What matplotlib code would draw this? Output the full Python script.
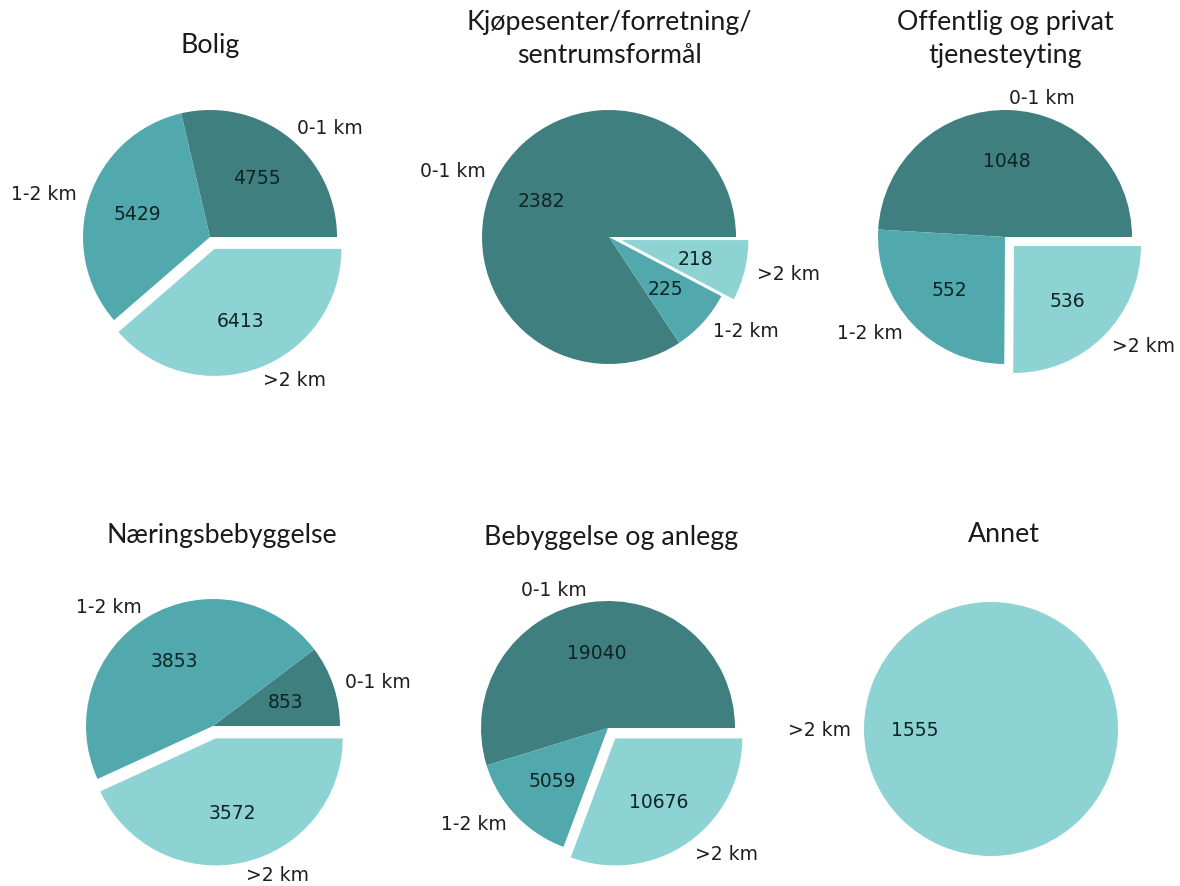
import matplotlib
matplotlib.use("Agg")
import matplotlib.pyplot as plt

# Distance bands and counts per land-use category
bands = ["0-1 km", "1-2 km", ">2 km"]
titles = [
    "Bolig",
    "Kjøpesenter/forretning/\nsentrumsformål",
    "Offentlig og privat\ntjenesteyting",
    "Næringsbebyggelse",
    "Bebyggelse og anlegg",
    "Annet",
]
bolig = [4755, 5429, 6413]
kjopesenter = [2382, 225, 218]
offentlig = [1048, 552, 536]
naering = [853, 3853, 3572]
bebyggelse = [19040, 5059, 10676]
annet = [1555]
annet_bands = [">2 km"]

colors = ["#3f7f80", "#52a9ad", "#8ed3d4"]

W, H = 1180, 887
fig = plt.figure(figsize=(W / 100, H / 100), dpi=100)

R = 127  # pie radius in pixels
side = 2.5 * R
centers = [(210, 238), (609, 238), (1005, 238), (213, 727), (608, 729), (991, 730)]
title_pos = [(210, 45), (609, 39), (1005, 39), (222, 535), (611, 537), (1004, 535)]

datasets = [
    (bolig, bands, colors, [0, 0, 0.1]),
    (kjopesenter, bands, colors, [0, 0, 0.1]),
    (offentlig, bands, colors, [0, 0, 0.1]),
    (naering, bands, colors, [0, 0, 0.1]),
    (bebyggelse, bands, colors, [0, 0, 0.1]),
    (annet, annet_bands, [colors[2]], [0]),
]


def make_autopct(values):
    total = sum(values)

    def fmt(pct):
        return f"{int(round(pct * total / 100.0))}"

    return fmt


for (cx, cy), (tx, ty), title, (vals, labs, cols, expl) in zip(
    centers, title_pos, titles, datasets
):
    ax = fig.add_axes([(cx - side / 2) / W, 1 - (cy + side / 2) / H, side / W, side / H])
    wedges, texts, autotexts = ax.pie(
        vals,
        labels=labs,
        colors=cols,
        explode=expl,
        autopct=make_autopct(vals),
        textprops={"fontsize": 13.5, "color": "#1e1e1e", "family": "DejaVu Sans"},
    )
    for t in autotexts:
        t.set_color("#0f2424")
    ax.set_xlim(-1.25, 1.25)
    ax.set_ylim(-1.25, 1.25)
    ax.set_aspect("equal")
    fig.text(
        tx / W,
        1 - ty / H,
        title,
        ha="center",
        va="center",
        fontsize=19.3,
        family="Lato",
        color="#1a1a1a",
        linespacing=1.42,
    )

fig.savefig("out.png", dpi=100, facecolor="white")
